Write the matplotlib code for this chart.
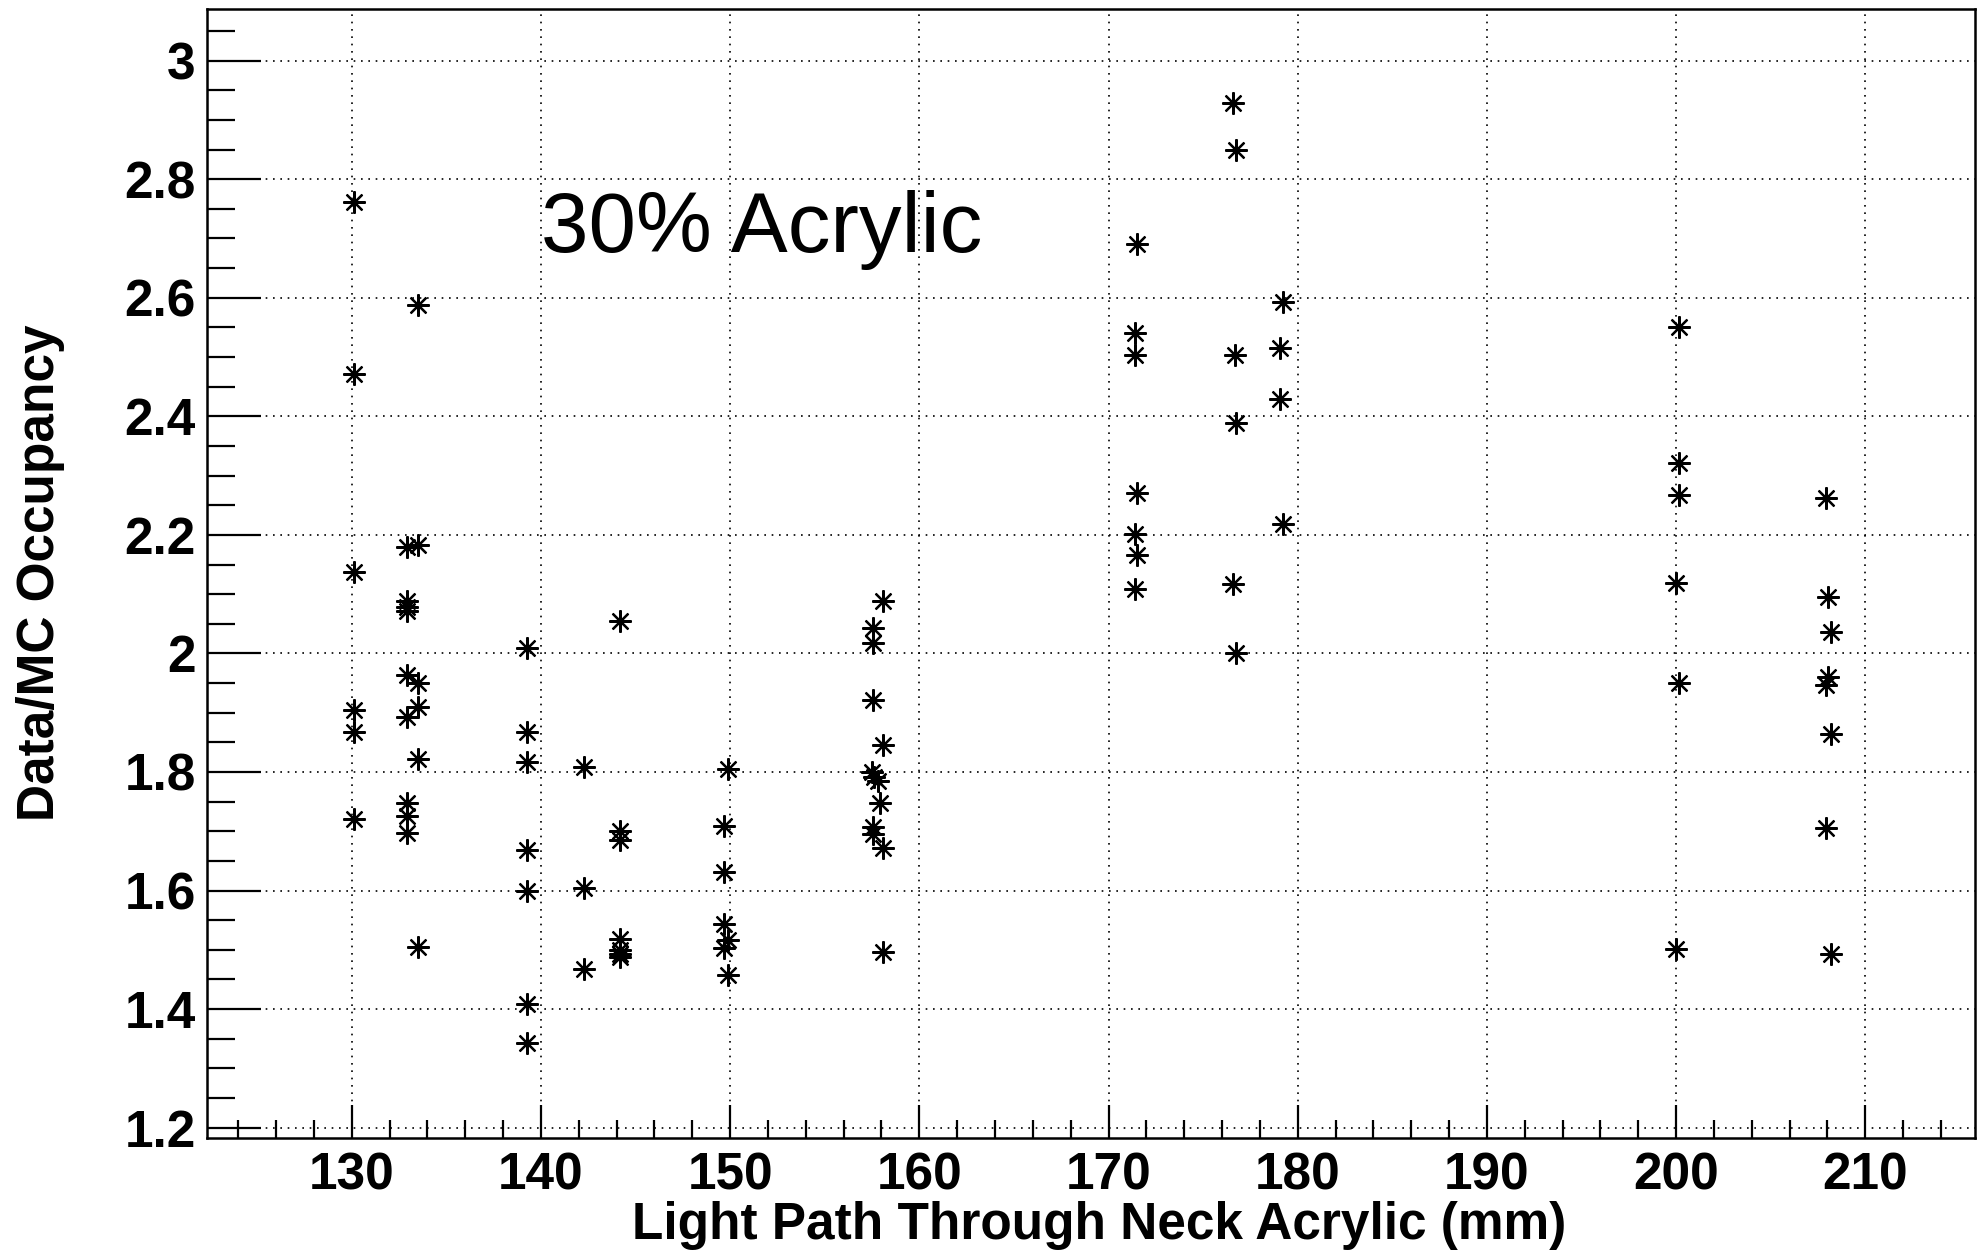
import matplotlib
matplotlib.use("Agg")
from matplotlib import pyplot as plt
from matplotlib.ticker import MultipleLocator

# light path through neck acrylic (mm) and data/MC occupancy ratio
path_mm = [130.1, 130.1, 130.1, 130.1, 130.1, 130.1,
           132.9, 132.9, 132.9, 132.9, 132.9, 132.9, 132.9, 132.9, 132.9,
           133.5, 133.5, 133.5, 133.5, 133.5, 133.5,
           139.25, 139.25, 139.25, 139.25, 139.25, 139.25, 139.25,
           142.3, 142.3, 142.3,
           144.2, 144.2, 144.2, 144.2, 144.2, 144.2, 144.2,
           149.87, 149.7, 149.7, 149.7, 149.87, 149.7, 149.87,
           157.55, 157.55, 157.55, 157.5, 157.6, 157.55, 157.55,
           157.8, 157.92,
           158.07, 158.07, 158.07, 158.07,
           171.4, 171.4, 171.4, 171.4,
           171.53, 171.53, 171.53,
           176.58, 176.58, 176.72, 176.72, 176.72, 176.67,
           179.21, 179.04, 179.04, 179.21,
           200.14, 200.14, 200.14, 200.0, 200.14, 200.0,
           207.9, 208.03, 208.17, 208.03, 207.9, 208.17, 207.9, 208.17]
ratio = [2.762, 2.472, 2.138, 1.905, 1.867, 1.721,
         2.180, 2.088, 2.078, 2.072, 1.964, 1.893, 1.748, 1.726, 1.697,
         2.588, 2.183, 1.950, 1.910, 1.822, 1.505,
         2.010, 1.867, 1.817, 1.668, 1.600, 1.409, 1.343,
         1.809, 1.604, 1.468,
         2.055, 1.700, 1.686, 1.518, 1.500, 1.493, 1.488,
         1.805, 1.709, 1.631, 1.543, 1.517, 1.503, 1.458,
         2.043, 2.018, 1.922, 1.800, 1.792, 1.708, 1.696,
         1.785, 1.748,
         2.088, 1.846, 1.671, 1.496,
         2.541, 2.504, 2.201, 2.109,
         2.691, 2.271, 2.166,
         2.928, 2.117, 2.850, 2.389, 2.001, 2.504,
         2.593, 2.516, 2.430, 2.219,
         2.550, 2.322, 2.267, 2.118, 1.950, 1.501,
         2.263, 2.096, 2.037, 1.961, 1.946, 1.864, 1.705, 1.493]

plt.rcParams['font.family'] = ['Liberation Sans', 'DejaVu Sans']

fig = plt.figure(figsize=(19.77, 12.53), dpi=100)
ax = fig.add_axes([0.1046, 0.0920, 0.8944, 0.9006])

ax.plot(path_mm, ratio, linestyle='none', marker=(8, 2, 0), markersize=16,
        markeredgewidth=1.6, color='black', zorder=3)

ax.set_xlim(122.34, 215.8)
ax.set_ylim(1.183, 3.0867)

ax.xaxis.set_major_locator(MultipleLocator(10))
ax.xaxis.set_minor_locator(MultipleLocator(2))
ax.yaxis.set_major_locator(MultipleLocator(0.2))
ax.yaxis.set_minor_locator(MultipleLocator(0.05))
ax.yaxis.set_major_formatter(plt.FuncFormatter(lambda v, p: '%g' % round(v, 2)))

ax.tick_params(which='both', direction='in', top=False, right=False, width=1.6, color='black')
ax.tick_params(axis='x', which='major', length=24, pad=10, labelsize=37)
ax.tick_params(axis='x', which='minor', length=13)
ax.tick_params(axis='y', which='major', length=39, pad=8, labelsize=37)
ax.tick_params(axis='y', which='minor', length=20)
for lbl in ax.get_xticklabels() + ax.get_yticklabels():
    lbl.set_fontweight('bold')

for s in ax.spines.values():
    s.set_linewidth(1.8)

ax.grid(True, which='major', color='black', linestyle=(0, (1, 3.4)), linewidth=1.2)
ax.set_axisbelow(True)

ax.text(140.0, 2.678, '30% Acrylic', fontsize=61.5, ha='left', va='baseline')

fig.text(0.556, 0.022, 'Light Path Through Neck Acrylic (mm)', fontsize=37,
         fontweight='bold', ha='center', va='center')
fig.text(0.0205, 0.543, 'Data/MC Occupancy', fontsize=37, fontweight='bold',
         rotation=90, ha='center', va='center')

fig.savefig('out.png', dpi=100)
